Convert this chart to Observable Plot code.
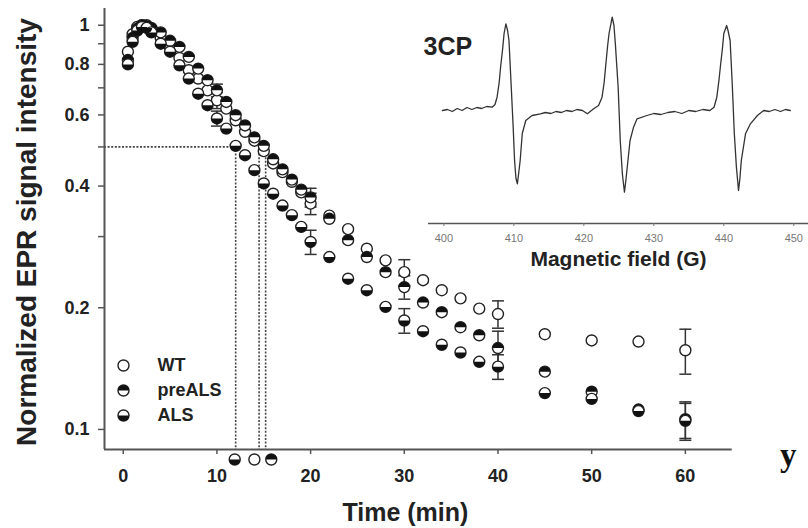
<!DOCTYPE html>
<html><head><meta charset="utf-8">
<script src="https://cdn.jsdelivr.net/npm/d3@7"></script>
<script src="https://cdn.jsdelivr.net/npm/@observablehq/plot@0.6"></script>
<style>
body{margin:0;background:#fff;}
#wrap{position:relative;width:808px;height:528px;overflow:hidden;background:#fff;}
#main,#inset{position:absolute;top:0;}
#main{left:0;width:808px;}
#inset{left:420px;width:388px;}
#main svg [aria-label$="tick label"]{font-weight:bold;}
</style></head><body>
<div id="wrap"><div id="main"></div><div id="inset"></div></div>
<script>
// ---- main data ----
const times = [0.5,1,1.5,2,2.5,3,4,5,6,7,8,9,10,11,12,13,14,15,16,17,18,19,20,22,24,26,28,30,32,34,36,38,40,45,50,55,60];
const wtValues = [0.86,0.95,0.99,1.0,1.0,0.98,0.93,0.88,0.83,0.774,0.738,0.69,0.652,0.622,0.582,0.545,0.518,0.488,0.455,0.433,0.41,0.386,0.362,0.338,0.313,0.28,0.262,0.245,0.234,0.221,0.211,0.199,0.193,0.172,0.166,0.165,0.157];
const preALSValues = [0.82,0.93,0.98,1.0,0.995,0.985,0.96,0.915,0.884,0.835,0.781,0.731,0.69,0.646,0.599,0.565,0.528,0.503,0.466,0.44,0.415,0.392,0.375,0.332,0.294,0.267,0.245,0.225,0.206,0.195,0.179,0.171,0.159,0.139,0.124,0.112,0.106];
const alsValues = [0.80,0.91,0.97,0.99,0.985,0.96,0.90,0.86,0.796,0.738,0.677,0.634,0.588,0.555,0.503,0.477,0.438,0.406,0.383,0.358,0.339,0.317,0.291,0.267,0.236,0.221,0.201,0.186,0.175,0.162,0.155,0.147,0.143,0.123,0.119,0.111,0.105];
const errTimes = [10,20,30,40,60];
const wtErr = [0.03,0.022,0.018,0.015,0.02];
const preALSErr = [0.025,0.02,0.015,0.016,0.011];
const alsErr = [0.025,0.02,0.013,0.01,0.011];
const seriesNames = ["WT","preALS","ALS"];
const halfLevel = 0.5;
const halfLifeALS = 12, halfLifeWT = 14.5, halfLifePreALS = 15.2;
const halfMarkerTimes = [11.9, 14.0, 15.8]; // ALS, WT, preALS markers under the axis
const xTicks = [0,10,20,30,40,50,60];
const yMajorTicks = [0.1,0.2,0.4,0.6,0.8,1];
const yMinorTicks = [0.3,0.5,0.7,0.9];
const xDomain = [-2, 65];
const yDomain = [0.0892, 1.10];

// ---- inset spectrum data (3CP EPR spectrum) ----
const fieldTicks = [400,410,420,430,440,450];
const specField = [399.8,400.5,401.2,401.9,402.6,403.3,404.0,404.7,405.4,406.1,406.9,407.3,407.6,407.9,408.1,408.4,408.6,408.86,409.1,409.3,409.6,409.9,410.1,410.3,410.5,410.7,410.9,411.2,411.7,412.6,413.8,414.5,415.3,416.0,416.8,417.5,418.3,419.0,419.8,420.5,421.4,422.1,422.6,422.9,423.1,423.4,423.6,424.05,424.3,424.5,424.9,425.2,425.5,425.8,426.0,426.2,426.6,427.1,427.6,429.0,430.0,431.0,432.0,433.0,434.0,435.0,436.0,437.0,438.0,438.6,439.0,439.3,439.5,439.8,440.0,440.4,440.6,440.9,441.2,441.5,441.8,442.1,442.3,442.5,443.1,443.8,444.8,445.7,446.5,447.3,448.1,448.8,449.5];
const specSignal = [0.0,0.01,-0.01,0.02,0.0,0.03,0.01,0.03,0.02,0.04,0.033,0.06,0.133,0.28,0.433,0.62,0.77,0.867,0.80,0.70,0.27,-0.167,-0.50,-0.68,-0.733,-0.62,-0.50,-0.23,-0.10,-0.05,-0.033,-0.02,-0.03,-0.01,-0.02,0.0,-0.01,0.01,0.0,-0.033,0.017,0.05,0.133,0.28,0.433,0.65,0.77,0.933,0.85,0.667,0.233,-0.30,-0.633,-0.817,-0.70,-0.567,-0.30,-0.167,-0.083,-0.05,-0.03,-0.04,-0.02,-0.01,-0.03,0.0,-0.01,0.01,0.0,0.033,0.133,0.30,0.433,0.62,0.77,0.85,0.80,0.70,0.27,-0.23,-0.567,-0.80,-0.68,-0.50,-0.233,-0.133,-0.05,0.0,-0.01,0.01,-0.01,0.01,0.0];

// ---- symbols ----
const topHalf = {draw(ctx, size){const r=Math.sqrt(size/Math.PI); ctx.moveTo(-r,0); ctx.arc(0,0,r,Math.PI,2*Math.PI); ctx.closePath();}};
const bottomHalf = {draw(ctx, size){const r=Math.sqrt(size/Math.PI); ctx.moveTo(r,0); ctx.arc(0,0,r,0,Math.PI); ctx.closePath();}};
const hbar = {draw(ctx, size){const w=Math.sqrt(size/Math.PI); ctx.moveTo(-w,0); ctx.lineTo(w,0);}};

const font = "Liberation Sans, Arial, sans-serif";
const ink = "#222", axisGray = "#555";
const R = 5.5;

function table(vals){ return times.map((t,i)=>({t, v: vals[i]})); }
function errTable(vals, errs){ return errTimes.map((t,i)=>{const v = vals[times.indexOf(t)]; return {t, lo: v-errs[i], hi: v+errs[i]};}); }
const wtData = table(wtValues), preData = table(preALSValues), alsData = table(alsValues);
const errData = [...errTable(wtValues, wtErr), ...errTable(preALSValues, preALSErr), ...errTable(alsValues, alsErr)];

function markerMarks(data, half, extra){
  const o = Object.assign({r: R}, extra);
  const m = [Plot.dot(data, Object.assign({fill:"white", stroke:"#222", strokeWidth:1.4}, o))];
  if (half) m.push(Plot.dot(data, Object.assign({symbol: half, fill:"#111", stroke:"none"}, o)));
  return m;
}
const halfSym = {WT: null, preALS: topHalf, ALS: bottomHalf};
const legendDy = [-84, -59, -34];

const marks = [
  // dotted half-life guides
  Plot.ruleY([halfLevel], {x1: xDomain[0], x2: halfLifeALS, stroke:"#444", strokeWidth:1.6, strokeDasharray:"2,1.6"}),
  Plot.ruleX([halfLifeALS, halfLifeWT, halfLifePreALS], {y1: halfLevel, y2: yDomain[0], stroke:"#444", strokeWidth:1.6, strokeDasharray:"2,1.6"}),
  // axes
  Plot.axisY({ticks: yMinorTicks, tickSize: 6, tickFormat: () => "", color: axisGray, strokeWidth: 1.5, label: null}),
  Plot.axisY({ticks: yMajorTicks, tickSize: 6, tickPadding: 9, tickFormat: d => String(d), fontSize: 18, fontWeight: "bold", color: ink, stroke: axisGray, strokeWidth: 1.5, label: null}),
  Plot.axisX({ticks: xTicks, tickSize: 5, tickPadding: 15, fontSize: 18, fontWeight: "bold", color: ink, stroke: axisGray, strokeWidth: 1.5, label: null}),
  Plot.ruleX([xDomain[0]], {stroke: axisGray, strokeWidth: 2}),
  Plot.ruleY([yDomain[0]], {stroke: axisGray, strokeWidth: 2}),
  // error bars
  Plot.ruleX(errData, {x:"t", y1:"lo", y2:"hi", stroke:"#333", strokeWidth:1.5}),
  Plot.dot(errData, {x:"t", y:"lo", symbol: hbar, r: 6, stroke:"#333", strokeWidth:1.5}),
  Plot.dot(errData, {x:"t", y:"hi", symbol: hbar, r: 6, stroke:"#333", strokeWidth:1.5}),
  // series
  ...markerMarks(wtData, null, {x:"t", y:"v"}),
  ...markerMarks(preData, topHalf, {x:"t", y:"v"}),
  ...markerMarks(alsData, bottomHalf, {x:"t", y:"v"}),
  // half-life markers below the axis
  ...markerMarks([halfMarkerTimes[0]], bottomHalf, {x: d=>d, frameAnchor:"bottom", dy: 10}),
  ...markerMarks([halfMarkerTimes[1]], null, {x: d=>d, frameAnchor:"bottom", dy: 10}),
  ...markerMarks([halfMarkerTimes[2]], topHalf, {x: d=>d, frameAnchor:"bottom", dy: 10}),
  // legend
  ...seriesNames.flatMap((name, i) => [
    ...markerMarks([name], halfSym[name], {frameAnchor:"bottom-left", dx: 19, dy: legendDy[i]}),
    Plot.text([name], {text: d=>d, frameAnchor:"bottom-left", dx: 53, dy: legendDy[i], textAnchor:"start", lineAnchor:"middle", fontSize: 18, fontWeight:"bold", fill: ink})
  ]),
  // titles
  Plot.text(["Normalized EPR signal intensity"], {text: d=>d, frameAnchor:"left", rotate:-90, dx:-77, dy:3, textAnchor:"middle", lineAnchor:"middle", fontSize:28, fontWeight:"bold", fill: ink}),
  Plot.text(["Time (min)"], {text: d=>d, frameAnchor:"bottom", dx:-13, dy:63, textAnchor:"middle", lineAnchor:"middle", fontSize:25, fontWeight:"bold", fill: ink}),
  Plot.text(["y"], {text: d=>d, frameAnchor:"bottom-right", dx:56, dy:6, textAnchor:"middle", lineAnchor:"middle", fontSize:33, fontWeight:"bold", fontFamily:"Liberation Serif, serif", fill:"#111"})
];

const main = Plot.plot({
  width: 808, height: 528,
  marginLeft: 104, marginRight: 76.3, marginTop: 8, marginBottom: 79,
  x: {domain: xDomain},
  y: {type: "log", domain: yDomain},
  style: {fontFamily: font, overflow: "visible", background: "white"},
  marks
});
document.getElementById("main").appendChild(main);

const specData = specField.map((f,i)=>({f, s: specSignal[i]}));
const inset = Plot.plot({
  width: 388, height: 280,
  marginLeft: 8, marginRight: 0, marginTop: 10, marginBottom: 57,
  x: {domain: [397.8, 452.1]},
  y: {domain: [-1.13, 1], axis: null},
  style: {fontFamily: font, overflow: "visible", background: "transparent"},
  marks: [
    Plot.ruleY([-1.13], {stroke: axisGray, strokeWidth: 1.5}),
    Plot.axisX({ticks: fieldTicks, tickSize: 3, tickPadding: 8, fontSize: 11, color: "#777", label: null}),
    Plot.line(specData, {x:"f", y:"s", stroke:"#333", strokeWidth:1.3}),
    Plot.text(["3CP"], {text: d=>d, frameAnchor:"top-left", dx:-5, dy:36, textAnchor:"start", lineAnchor:"middle", fontSize:25, fontWeight:"bold", fill: ink}),
    Plot.text(["Magnetic field (G)"], {text: d=>d, frameAnchor:"bottom", dy:36, textAnchor:"middle", lineAnchor:"middle", fontSize:21, fontWeight:"bold", fill: ink})
  ]
});
document.getElementById("inset").appendChild(inset);
</script>
</body></html>
